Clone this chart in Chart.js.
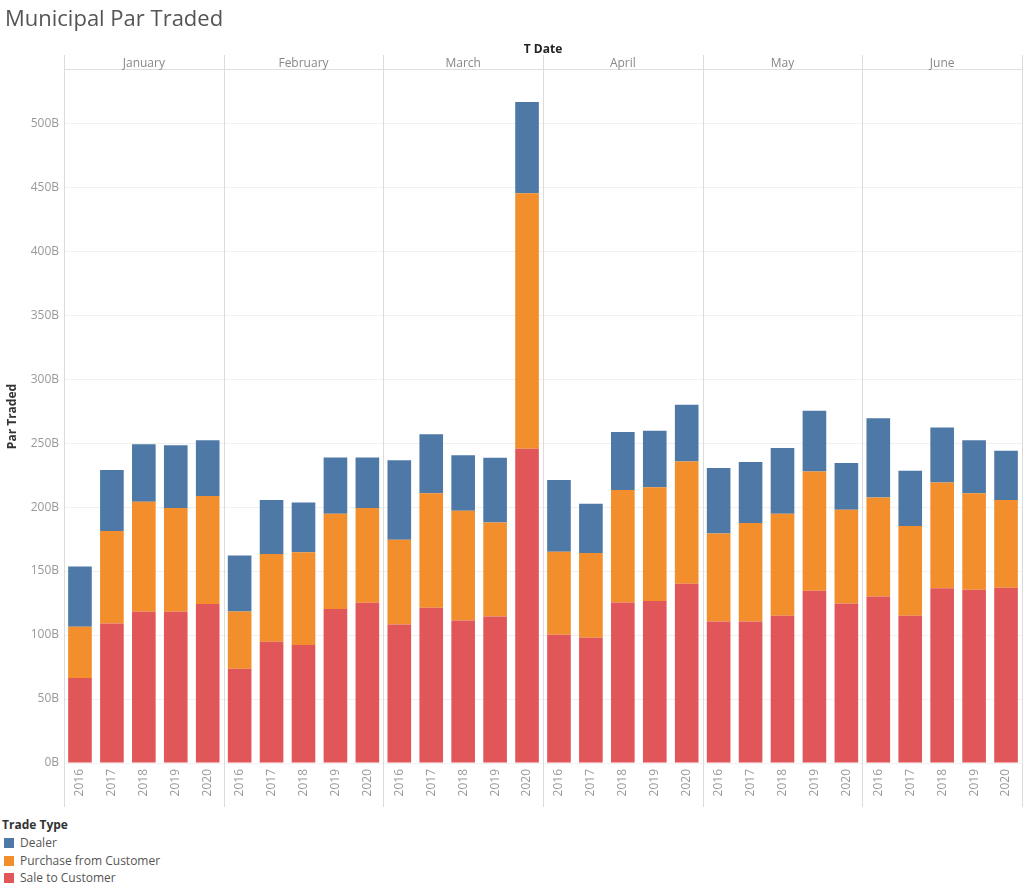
<!DOCTYPE html>
<html>
<head>
<meta charset="utf-8">
<script src="https://cdn.jsdelivr.net/npm/chart.js@4"></script>
<style>
  body { margin: 0; background: #fff; font-family: "Open Sans", sans-serif; }
  #wrap { position: absolute; left: 0; top: 0; width: 1024px; height: 812px; }
  #legend { position: absolute; left: 2px; top: 816px; font-size: 12px; color: #555; }
  #legend .head { font-weight: bold; color: #333; height: 18px; line-height: 18px; }
  #legend .item { height: 17.5px; line-height: 17.5px; white-space: nowrap; }
  #legend .sw { display: inline-block; width: 10px; height: 10px; margin: 0 6px 0 2px; vertical-align: -1px; }
</style>
</head>
<body>
<div id="wrap"><canvas id="chart"></canvas></div>
<div id="legend"></div>
<script>
const months = ['January', 'February', 'March', 'April', 'May', 'June']
const years = ['2016', '2017', '2018', '2019', '2020']

// values in billions, one per month/year, January 2016 first
const sale_to_customer = [66.4, 109, 118.2, 118.2, 124.2, 73.7, 94.8, 92.2, 120.3, 125.2,
    108.3, 121.3, 111.4, 114.5, 245.5, 100.2, 97.9, 125.5, 126.6, 140.1,
    110.6, 110.6, 115.1, 134.6, 124.7, 130.2, 115.1, 136.5, 135.4, 137]
const purchase_from_customer = [40.1, 72.3, 85.9, 81, 84.4, 44.7, 68.5, 72.6, 74.5, 74,
    66.2, 89.6, 85.7, 73.5, 199.8, 64.9, 66.2, 87.8, 89, 95.5,
    68.8, 76.9, 79.7, 93.2, 73.2, 77.3, 70.1, 82.7, 75.5, 68.5]
const dealer = [47.1, 47.6, 45.1, 49.2, 43.7, 43.8, 42.2, 38.8, 44, 39.6,
    62.2, 46.1, 43.5, 50.5, 71.3, 56, 38.5, 45.3, 44, 44.3,
    51.1, 47.7, 51.3, 47.4, 36.5, 62, 43.2, 43, 41.4, 38.5]

const labels = months.flatMap(() => years)
const font = '"Open Sans", sans-serif'

// month header band, "T Date" and the panel dividers
const panels = {
    id: 'panels',
    beforeDatasetsDraw(chart) {
        const c = chart.ctx
        const area = chart.chartArea
        const x = chart.scales.x
        const half = (x.getPixelForValue(1) - x.getPixelForValue(0)) / 2
        c.save()
        c.strokeStyle = '#e0e0e0'
        c.lineWidth = 1
        c.beginPath()
        c.moveTo(area.left, area.top - 0.5)
        c.lineTo(area.right, area.top - 0.5)
        c.stroke()
        c.strokeStyle = '#dcdcdc'
        c.beginPath()
        for (let m = 0; m <= months.length; m++) {
            const px = Math.round(x.getPixelForValue(m * years.length) - half) + 0.5
            c.moveTo(px, area.top - 15)
            c.lineTo(px, 807)
        }
        c.stroke()
        c.fillStyle = '#888'
        c.font = '12px ' + font
        c.textAlign = 'center'
        c.textBaseline = 'middle'
        months.forEach((m, i) => {
            const a = x.getPixelForValue(i * years.length)
            const b = x.getPixelForValue(i * years.length + years.length - 1)
            c.fillText(m, (a + b) / 2, area.top - 6)
        })
        c.fillStyle = '#222'
        c.font = 'bold 12px ' + font
        c.fillText('T Date', (area.left + area.right) / 2, area.top - 20)
        c.restore()
    }
}

const datasets = [
    { label: 'Sale to Customer', data: sale_to_customer, backgroundColor: '#e15759' },
    { label: 'Purchase from Customer', data: purchase_from_customer, backgroundColor: '#f28e2b' },
    { label: 'Dealer', data: dealer, backgroundColor: '#4e79a7' },
]

const chart = new Chart(document.querySelector('#chart'), {
    type: 'bar',
    data: { labels: labels, datasets: datasets },
    plugins: [panels],
    options: {
        responsive: true,
        maintainAspectRatio: false,
        animation: false,
        barPercentage: 0.74,
        categoryPercentage: 1,
        layout: { padding: { left: 5, right: 2, top: 0, bottom: 0 } },
        plugins: {
            legend: { display: false },
            tooltip: { enabled: false },
            title: {
                display: true,
                text: 'Municipal Par Traded',
                align: 'start',
                color: '#555',
                font: { family: font, size: 22, weight: 'normal' },
                padding: { top: 7, bottom: 36.6 },
            },
        },
        scales: {
            x: {
                stacked: true,
                grid: { display: false, drawTicks: false },
                border: { display: false },
                ticks: {
                    autoSkip: false,
                    minRotation: 90,
                    maxRotation: 90,
                    padding: 6,
                    color: '#999',
                    font: { family: font, size: 12 },
                },
                afterFit: (scale) => {
                    scale.height = 49
                    scale.paddingLeft = 0
                    scale.paddingRight = 0
                },
            },
            y: {
                stacked: true,
                min: 0,
                max: 541.6,
                grid: { color: '#f0f0f0', drawTicks: false },
                border: { display: false },
                ticks: {
                    stepSize: 50,
                    includeBounds: false,
                    padding: 5,
                    color: '#999',
                    font: { family: font, size: 12 },
                    callback: (v) => v + 'B',
                },
                title: {
                    display: true,
                    text: 'Par Traded',
                    color: '#333',
                    font: { family: font, size: 12, weight: 'bold' },
                    padding: { top: 0, bottom: 0 },
                },
                afterFit: (scale) => { scale.width = 59 },
            },
        },
    },
})

// legend, top to bottom like the original
const legend = document.querySelector('#legend')
legend.innerHTML = '<div class="head">Trade Type</div>' + datasets.slice().reverse().map((d) =>
    '<div class="item"><span class="sw" style="background:' + d.backgroundColor + '"></span>' + d.label + '</div>'
).join('')
</script>
</body>
</html>
